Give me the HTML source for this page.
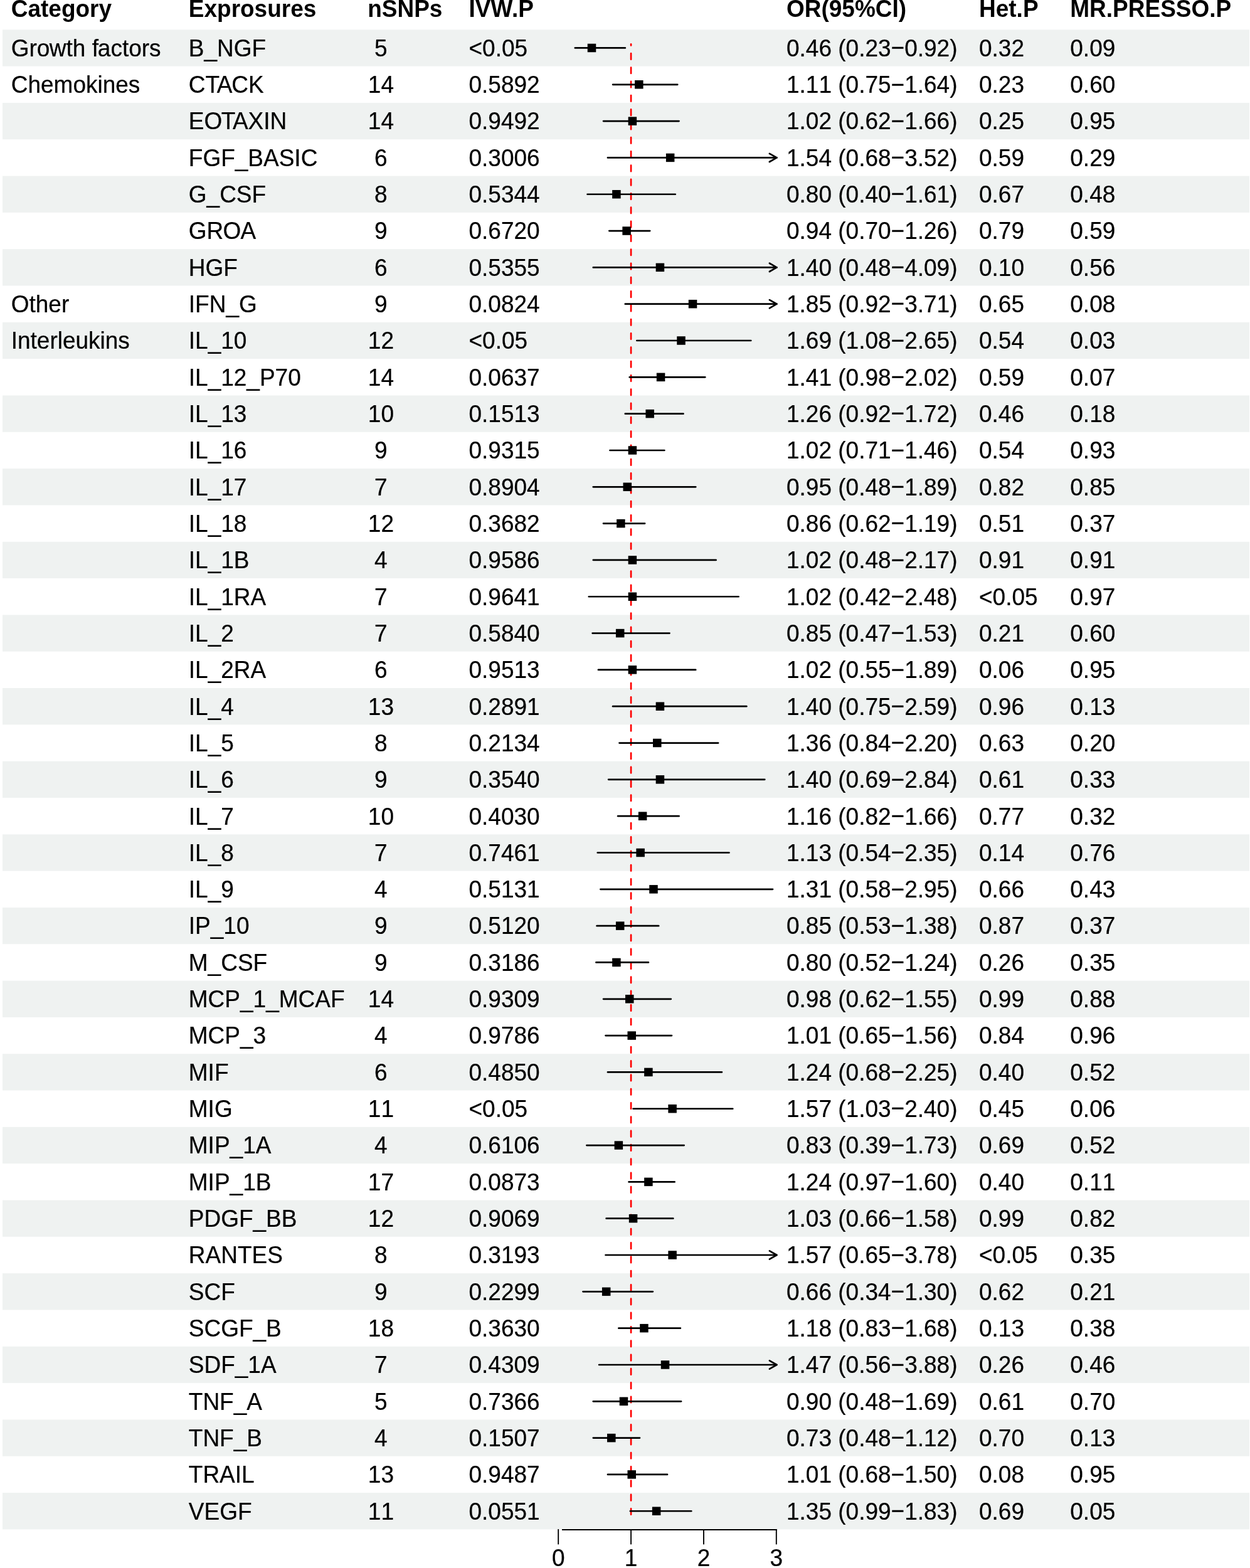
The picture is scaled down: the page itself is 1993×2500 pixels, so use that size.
<!DOCTYPE html>
<html><head><meta charset="utf-8"><title>Forest plot</title><style>html,body{margin:0;padding:0;background:#fff;}svg{display:block;}text{font-family:"Liberation Sans",Arial,sans-serif;font-size:38.5px;fill:#000;font-kerning:none;font-feature-settings:"kern" 0;}.r{stroke:#000;stroke-width:0.25px;}.h{font-weight:bold;}</style></head><body>
<svg width="1993" height="2500" viewBox="0 0 1993 2500">
<rect x="0" y="0" width="1993" height="2500" fill="#fff"/>
<rect x="4" y="47.30" width="1988" height="58.3" fill="#eff2f1"/>
<rect x="4" y="163.94" width="1988" height="58.3" fill="#eff2f1"/>
<rect x="4" y="280.58" width="1988" height="58.3" fill="#eff2f1"/>
<rect x="4" y="397.22" width="1988" height="58.3" fill="#eff2f1"/>
<rect x="4" y="513.86" width="1988" height="58.3" fill="#eff2f1"/>
<rect x="4" y="630.50" width="1988" height="58.3" fill="#eff2f1"/>
<rect x="4" y="747.14" width="1988" height="58.3" fill="#eff2f1"/>
<rect x="4" y="863.78" width="1988" height="58.3" fill="#eff2f1"/>
<rect x="4" y="980.42" width="1988" height="58.3" fill="#eff2f1"/>
<rect x="4" y="1097.06" width="1988" height="58.3" fill="#eff2f1"/>
<rect x="4" y="1213.70" width="1988" height="58.3" fill="#eff2f1"/>
<rect x="4" y="1330.34" width="1988" height="58.3" fill="#eff2f1"/>
<rect x="4" y="1446.98" width="1988" height="58.3" fill="#eff2f1"/>
<rect x="4" y="1563.62" width="1988" height="58.3" fill="#eff2f1"/>
<rect x="4" y="1680.26" width="1988" height="58.3" fill="#eff2f1"/>
<rect x="4" y="1796.90" width="1988" height="58.3" fill="#eff2f1"/>
<rect x="4" y="1913.54" width="1988" height="58.3" fill="#eff2f1"/>
<rect x="4" y="2030.18" width="1988" height="58.3" fill="#eff2f1"/>
<rect x="4" y="2146.82" width="1988" height="58.3" fill="#eff2f1"/>
<rect x="4" y="2263.46" width="1988" height="58.3" fill="#eff2f1"/>
<rect x="4" y="2380.10" width="1988" height="58.3" fill="#eff2f1"/>
<g transform="scale(0.961 1)"><text x="18.42" y="26.70" class="h">Category</text><text x="313.01" y="26.70" class="h">Exprosures</text><text x="609.99" y="26.70" class="h">nSNPs</text><text x="777.84" y="26.70" class="h">IVW<tspan dx="-1.35">.</tspan>P</text><text x="1304.89" y="26.70" class="h">OR(95%CI)</text><text x="1624.35" y="26.70" class="h">Het.P</text><text x="1775.55" y="26.70" class="h">MR.PRESSO.P</text><text x="18.42" y="89.80" class="r">Gro<tspan dx="-0.58">w</tspan>th f<tspan dx="-1.16">a</tspan>ctors</text><text x="313.01" y="89.80" class="r">B_NGF</text><text x="632.05" y="89.80" class="r" text-anchor="middle">5</text><text x="777.84" y="89.80" class="r">&lt;0.05</text><text x="1304.89" y="89.80" class="r">0.46 (0.23<tspan dy="-0.6">−</tspan><tspan dy="0.6">0.92)</tspan></text><text x="1624.35" y="89.80" class="r">0.32</text><text x="1775.55" y="89.80" class="r">0.09</text><text x="18.42" y="148.12" class="r">Chemokines</text><text x="313.01" y="148.12" class="r">CT<tspan dx="-4.62">A</tspan><tspan dx="-1.16">C</tspan>K</text><text x="632.05" y="148.12" class="r" text-anchor="middle">14</text><text x="777.84" y="148.12" class="r">0.5892</text><text x="1304.89" y="148.12" class="r">1.11 (0.75<tspan dy="-0.6">−</tspan><tspan dy="0.6">1.64)</tspan></text><text x="1624.35" y="148.12" class="r">0.23</text><text x="1775.55" y="148.12" class="r">0.60</text><text x="313.01" y="206.44" class="r">EO<tspan dx="-1.54">T</tspan><tspan dx="-4.62">A</tspan>XIN</text><text x="632.05" y="206.44" class="r" text-anchor="middle">14</text><text x="777.84" y="206.44" class="r">0.9492</text><text x="1304.89" y="206.44" class="r">1.02 (0.62<tspan dy="-0.6">−</tspan><tspan dy="0.6">1.66)</tspan></text><text x="1624.35" y="206.44" class="r">0.25</text><text x="1775.55" y="206.44" class="r">0.95</text><text x="313.01" y="264.76" class="r">FGF_BASIC</text><text x="632.05" y="264.76" class="r" text-anchor="middle">6</text><text x="777.84" y="264.76" class="r">0.3006</text><text x="1304.89" y="264.76" class="r">1.54 (0.68<tspan dy="-0.6">−</tspan><tspan dy="0.6">3.52)</tspan></text><text x="1624.35" y="264.76" class="r">0.59</text><text x="1775.55" y="264.76" class="r">0.29</text><text x="313.01" y="323.08" class="r">G_CSF</text><text x="632.05" y="323.08" class="r" text-anchor="middle">8</text><text x="777.84" y="323.08" class="r">0.5344</text><text x="1304.89" y="323.08" class="r">0.80 (0.40<tspan dy="-0.6">−</tspan><tspan dy="0.6">1.61)</tspan></text><text x="1624.35" y="323.08" class="r">0.67</text><text x="1775.55" y="323.08" class="r">0.48</text><text x="313.01" y="381.40" class="r">GR<tspan dx="-0.77">O</tspan><tspan dx="-0.77">A</tspan></text><text x="632.05" y="381.40" class="r" text-anchor="middle">9</text><text x="777.84" y="381.40" class="r">0.6720</text><text x="1304.89" y="381.40" class="r">0.94 (0.70<tspan dy="-0.6">−</tspan><tspan dy="0.6">1.26)</tspan></text><text x="1624.35" y="381.40" class="r">0.79</text><text x="1775.55" y="381.40" class="r">0.59</text><text x="313.01" y="439.72" class="r">HGF</text><text x="632.05" y="439.72" class="r" text-anchor="middle">6</text><text x="777.84" y="439.72" class="r">0.5355</text><text x="1304.89" y="439.72" class="r">1.40 (0.48<tspan dy="-0.6">−</tspan><tspan dy="0.6">4.09)</tspan></text><text x="1624.35" y="439.72" class="r">0.10</text><text x="1775.55" y="439.72" class="r">0.56</text><text x="18.42" y="498.04" class="r">Other</text><text x="313.01" y="498.04" class="r">IFN_G</text><text x="632.05" y="498.04" class="r" text-anchor="middle">9</text><text x="777.84" y="498.04" class="r">0.0824</text><text x="1304.89" y="498.04" class="r">1.85 (0.92<tspan dy="-0.6">−</tspan><tspan dy="0.6">3.71)</tspan></text><text x="1624.35" y="498.04" class="r">0.65</text><text x="1775.55" y="498.04" class="r">0.08</text><text x="18.42" y="556.36" class="r">Interleukins</text><text x="313.01" y="556.36" class="r">IL_10</text><text x="632.05" y="556.36" class="r" text-anchor="middle">12</text><text x="777.84" y="556.36" class="r">&lt;0.05</text><text x="1304.89" y="556.36" class="r">1.69 (1.08<tspan dy="-0.6">−</tspan><tspan dy="0.6">2.65)</tspan></text><text x="1624.35" y="556.36" class="r">0.54</text><text x="1775.55" y="556.36" class="r">0.03</text><text x="313.01" y="614.68" class="r">IL_12_P70</text><text x="632.05" y="614.68" class="r" text-anchor="middle">14</text><text x="777.84" y="614.68" class="r">0.0637</text><text x="1304.89" y="614.68" class="r">1.41 (0.98<tspan dy="-0.6">−</tspan><tspan dy="0.6">2.02)</tspan></text><text x="1624.35" y="614.68" class="r">0.59</text><text x="1775.55" y="614.68" class="r">0.07</text><text x="313.01" y="673.00" class="r">IL_13</text><text x="632.05" y="673.00" class="r" text-anchor="middle">10</text><text x="777.84" y="673.00" class="r">0.1513</text><text x="1304.89" y="673.00" class="r">1.26 (0.92<tspan dy="-0.6">−</tspan><tspan dy="0.6">1.72)</tspan></text><text x="1624.35" y="673.00" class="r">0.46</text><text x="1775.55" y="673.00" class="r">0.18</text><text x="313.01" y="731.32" class="r">IL_16</text><text x="632.05" y="731.32" class="r" text-anchor="middle">9</text><text x="777.84" y="731.32" class="r">0.9315</text><text x="1304.89" y="731.32" class="r">1.02 (0.71<tspan dy="-0.6">−</tspan><tspan dy="0.6">1.46)</tspan></text><text x="1624.35" y="731.32" class="r">0.54</text><text x="1775.55" y="731.32" class="r">0.93</text><text x="313.01" y="789.64" class="r">IL_17</text><text x="632.05" y="789.64" class="r" text-anchor="middle">7</text><text x="777.84" y="789.64" class="r">0.8904</text><text x="1304.89" y="789.64" class="r">0.95 (0.48<tspan dy="-0.6">−</tspan><tspan dy="0.6">1.89)</tspan></text><text x="1624.35" y="789.64" class="r">0.82</text><text x="1775.55" y="789.64" class="r">0.85</text><text x="313.01" y="847.96" class="r">IL_18</text><text x="632.05" y="847.96" class="r" text-anchor="middle">12</text><text x="777.84" y="847.96" class="r">0.3682</text><text x="1304.89" y="847.96" class="r">0.86 (0.62<tspan dy="-0.6">−</tspan><tspan dy="0.6">1.19)</tspan></text><text x="1624.35" y="847.96" class="r">0.51</text><text x="1775.55" y="847.96" class="r">0.37</text><text x="313.01" y="906.28" class="r">IL_1B</text><text x="632.05" y="906.28" class="r" text-anchor="middle">4</text><text x="777.84" y="906.28" class="r">0.9586</text><text x="1304.89" y="906.28" class="r">1.02 (0.48<tspan dy="-0.6">−</tspan><tspan dy="0.6">2.17)</tspan></text><text x="1624.35" y="906.28" class="r">0.91</text><text x="1775.55" y="906.28" class="r">0.91</text><text x="313.01" y="964.60" class="r">IL_1RA</text><text x="632.05" y="964.60" class="r" text-anchor="middle">7</text><text x="777.84" y="964.60" class="r">0.9641</text><text x="1304.89" y="964.60" class="r">1.02 (0.42<tspan dy="-0.6">−</tspan><tspan dy="0.6">2.48)</tspan></text><text x="1624.35" y="964.60" class="r">&lt;0.05</text><text x="1775.55" y="964.60" class="r">0.97</text><text x="313.01" y="1022.92" class="r">IL_2</text><text x="632.05" y="1022.92" class="r" text-anchor="middle">7</text><text x="777.84" y="1022.92" class="r">0.5840</text><text x="1304.89" y="1022.92" class="r">0.85 (0.47<tspan dy="-0.6">−</tspan><tspan dy="0.6">1.53)</tspan></text><text x="1624.35" y="1022.92" class="r">0.21</text><text x="1775.55" y="1022.92" class="r">0.60</text><text x="313.01" y="1081.24" class="r">IL_2RA</text><text x="632.05" y="1081.24" class="r" text-anchor="middle">6</text><text x="777.84" y="1081.24" class="r">0.9513</text><text x="1304.89" y="1081.24" class="r">1.02 (0.55<tspan dy="-0.6">−</tspan><tspan dy="0.6">1.89)</tspan></text><text x="1624.35" y="1081.24" class="r">0.06</text><text x="1775.55" y="1081.24" class="r">0.95</text><text x="313.01" y="1139.56" class="r">IL_4</text><text x="632.05" y="1139.56" class="r" text-anchor="middle">13</text><text x="777.84" y="1139.56" class="r">0.2891</text><text x="1304.89" y="1139.56" class="r">1.40 (0.75<tspan dy="-0.6">−</tspan><tspan dy="0.6">2.59)</tspan></text><text x="1624.35" y="1139.56" class="r">0.96</text><text x="1775.55" y="1139.56" class="r">0.13</text><text x="313.01" y="1197.88" class="r">IL_5</text><text x="632.05" y="1197.88" class="r" text-anchor="middle">8</text><text x="777.84" y="1197.88" class="r">0.2134</text><text x="1304.89" y="1197.88" class="r">1.36 (0.84<tspan dy="-0.6">−</tspan><tspan dy="0.6">2.20)</tspan></text><text x="1624.35" y="1197.88" class="r">0.63</text><text x="1775.55" y="1197.88" class="r">0.20</text><text x="313.01" y="1256.20" class="r">IL_6</text><text x="632.05" y="1256.20" class="r" text-anchor="middle">9</text><text x="777.84" y="1256.20" class="r">0.3540</text><text x="1304.89" y="1256.20" class="r">1.40 (0.69<tspan dy="-0.6">−</tspan><tspan dy="0.6">2.84)</tspan></text><text x="1624.35" y="1256.20" class="r">0.61</text><text x="1775.55" y="1256.20" class="r">0.33</text><text x="313.01" y="1314.52" class="r">IL_7</text><text x="632.05" y="1314.52" class="r" text-anchor="middle">10</text><text x="777.84" y="1314.52" class="r">0.4030</text><text x="1304.89" y="1314.52" class="r">1.16 (0.82<tspan dy="-0.6">−</tspan><tspan dy="0.6">1.66)</tspan></text><text x="1624.35" y="1314.52" class="r">0.77</text><text x="1775.55" y="1314.52" class="r">0.32</text><text x="313.01" y="1372.84" class="r">IL_8</text><text x="632.05" y="1372.84" class="r" text-anchor="middle">7</text><text x="777.84" y="1372.84" class="r">0.7461</text><text x="1304.89" y="1372.84" class="r">1.13 (0.54<tspan dy="-0.6">−</tspan><tspan dy="0.6">2.35)</tspan></text><text x="1624.35" y="1372.84" class="r">0.14</text><text x="1775.55" y="1372.84" class="r">0.76</text><text x="313.01" y="1431.16" class="r">IL_9</text><text x="632.05" y="1431.16" class="r" text-anchor="middle">4</text><text x="777.84" y="1431.16" class="r">0.5131</text><text x="1304.89" y="1431.16" class="r">1.31 (0.58<tspan dy="-0.6">−</tspan><tspan dy="0.6">2.95)</tspan></text><text x="1624.35" y="1431.16" class="r">0.66</text><text x="1775.55" y="1431.16" class="r">0.43</text><text x="313.01" y="1489.48" class="r">IP_10</text><text x="632.05" y="1489.48" class="r" text-anchor="middle">9</text><text x="777.84" y="1489.48" class="r">0.5120</text><text x="1304.89" y="1489.48" class="r">0.85 (0.53<tspan dy="-0.6">−</tspan><tspan dy="0.6">1.38)</tspan></text><text x="1624.35" y="1489.48" class="r">0.87</text><text x="1775.55" y="1489.48" class="r">0.37</text><text x="313.01" y="1547.80" class="r">M_CSF</text><text x="632.05" y="1547.80" class="r" text-anchor="middle">9</text><text x="777.84" y="1547.80" class="r">0.3186</text><text x="1304.89" y="1547.80" class="r">0.80 (0.52<tspan dy="-0.6">−</tspan><tspan dy="0.6">1.24)</tspan></text><text x="1624.35" y="1547.80" class="r">0.26</text><text x="1775.55" y="1547.80" class="r">0.35</text><text x="313.01" y="1606.12" class="r">MCP_1_MCAF</text><text x="632.05" y="1606.12" class="r" text-anchor="middle">14</text><text x="777.84" y="1606.12" class="r">0.9309</text><text x="1304.89" y="1606.12" class="r">0.98 (0.62<tspan dy="-0.6">−</tspan><tspan dy="0.6">1.55)</tspan></text><text x="1624.35" y="1606.12" class="r">0.99</text><text x="1775.55" y="1606.12" class="r">0.88</text><text x="313.01" y="1664.44" class="r">MCP_3</text><text x="632.05" y="1664.44" class="r" text-anchor="middle">4</text><text x="777.84" y="1664.44" class="r">0.9786</text><text x="1304.89" y="1664.44" class="r">1.01 (0.65<tspan dy="-0.6">−</tspan><tspan dy="0.6">1.56)</tspan></text><text x="1624.35" y="1664.44" class="r">0.84</text><text x="1775.55" y="1664.44" class="r">0.96</text><text x="313.01" y="1722.76" class="r">MIF</text><text x="632.05" y="1722.76" class="r" text-anchor="middle">6</text><text x="777.84" y="1722.76" class="r">0.4850</text><text x="1304.89" y="1722.76" class="r">1.24 (0.68<tspan dy="-0.6">−</tspan><tspan dy="0.6">2.25)</tspan></text><text x="1624.35" y="1722.76" class="r">0.40</text><text x="1775.55" y="1722.76" class="r">0.52</text><text x="313.01" y="1781.08" class="r">MIG</text><text x="632.05" y="1781.08" class="r" text-anchor="middle">11</text><text x="777.84" y="1781.08" class="r">&lt;0.05</text><text x="1304.89" y="1781.08" class="r">1.57 (1.03<tspan dy="-0.6">−</tspan><tspan dy="0.6">2.40)</tspan></text><text x="1624.35" y="1781.08" class="r">0.45</text><text x="1775.55" y="1781.08" class="r">0.06</text><text x="313.01" y="1839.40" class="r">MIP_1A</text><text x="632.05" y="1839.40" class="r" text-anchor="middle">4</text><text x="777.84" y="1839.40" class="r">0.6106</text><text x="1304.89" y="1839.40" class="r">0.83 (0.39<tspan dy="-0.6">−</tspan><tspan dy="0.6">1.73)</tspan></text><text x="1624.35" y="1839.40" class="r">0.69</text><text x="1775.55" y="1839.40" class="r">0.52</text><text x="313.01" y="1897.72" class="r">MIP_1B</text><text x="632.05" y="1897.72" class="r" text-anchor="middle">17</text><text x="777.84" y="1897.72" class="r">0.0873</text><text x="1304.89" y="1897.72" class="r">1.24 (0.97<tspan dy="-0.6">−</tspan><tspan dy="0.6">1.60)</tspan></text><text x="1624.35" y="1897.72" class="r">0.40</text><text x="1775.55" y="1897.72" class="r">0.11</text><text x="313.01" y="1956.04" class="r">PDGF_BB</text><text x="632.05" y="1956.04" class="r" text-anchor="middle">12</text><text x="777.84" y="1956.04" class="r">0.9069</text><text x="1304.89" y="1956.04" class="r">1.03 (0.66<tspan dy="-0.6">−</tspan><tspan dy="0.6">1.58)</tspan></text><text x="1624.35" y="1956.04" class="r">0.99</text><text x="1775.55" y="1956.04" class="r">0.82</text><text x="313.01" y="2014.36" class="r">RANTES</text><text x="632.05" y="2014.36" class="r" text-anchor="middle">8</text><text x="777.84" y="2014.36" class="r">0.3193</text><text x="1304.89" y="2014.36" class="r">1.57 (0.65<tspan dy="-0.6">−</tspan><tspan dy="0.6">3.78)</tspan></text><text x="1624.35" y="2014.36" class="r">&lt;0.05</text><text x="1775.55" y="2014.36" class="r">0.35</text><text x="313.01" y="2072.68" class="r">SCF</text><text x="632.05" y="2072.68" class="r" text-anchor="middle">9</text><text x="777.84" y="2072.68" class="r">0.2299</text><text x="1304.89" y="2072.68" class="r">0.66 (0.34<tspan dy="-0.6">−</tspan><tspan dy="0.6">1.30)</tspan></text><text x="1624.35" y="2072.68" class="r">0.62</text><text x="1775.55" y="2072.68" class="r">0.21</text><text x="313.01" y="2131.00" class="r">SCGF_B</text><text x="632.05" y="2131.00" class="r" text-anchor="middle">18</text><text x="777.84" y="2131.00" class="r">0.3630</text><text x="1304.89" y="2131.00" class="r">1.18 (0.83<tspan dy="-0.6">−</tspan><tspan dy="0.6">1.68)</tspan></text><text x="1624.35" y="2131.00" class="r">0.13</text><text x="1775.55" y="2131.00" class="r">0.38</text><text x="313.01" y="2189.32" class="r">SDF_1A</text><text x="632.05" y="2189.32" class="r" text-anchor="middle">7</text><text x="777.84" y="2189.32" class="r">0.4309</text><text x="1304.89" y="2189.32" class="r">1.47 (0.56<tspan dy="-0.6">−</tspan><tspan dy="0.6">3.88)</tspan></text><text x="1624.35" y="2189.32" class="r">0.26</text><text x="1775.55" y="2189.32" class="r">0.46</text><text x="313.01" y="2247.64" class="r">TNF_A</text><text x="632.05" y="2247.64" class="r" text-anchor="middle">5</text><text x="777.84" y="2247.64" class="r">0.7366</text><text x="1304.89" y="2247.64" class="r">0.90 (0.48<tspan dy="-0.6">−</tspan><tspan dy="0.6">1.69)</tspan></text><text x="1624.35" y="2247.64" class="r">0.61</text><text x="1775.55" y="2247.64" class="r">0.70</text><text x="313.01" y="2305.96" class="r">TNF_B</text><text x="632.05" y="2305.96" class="r" text-anchor="middle">4</text><text x="777.84" y="2305.96" class="r">0.1507</text><text x="1304.89" y="2305.96" class="r">0.73 (0.48<tspan dy="-0.6">−</tspan><tspan dy="0.6">1.12)</tspan></text><text x="1624.35" y="2305.96" class="r">0.70</text><text x="1775.55" y="2305.96" class="r">0.13</text><text x="313.01" y="2364.28" class="r">TRAIL</text><text x="632.05" y="2364.28" class="r" text-anchor="middle">13</text><text x="777.84" y="2364.28" class="r">0.9487</text><text x="1304.89" y="2364.28" class="r">1.01 (0.68<tspan dy="-0.6">−</tspan><tspan dy="0.6">1.50)</tspan></text><text x="1624.35" y="2364.28" class="r">0.08</text><text x="1775.55" y="2364.28" class="r">0.95</text><text x="313.01" y="2422.60" class="r">VEGF</text><text x="632.05" y="2422.60" class="r" text-anchor="middle">11</text><text x="777.84" y="2422.60" class="r">0.0551</text><text x="1304.89" y="2422.60" class="r">1.35 (0.99<tspan dy="-0.6">−</tspan><tspan dy="0.6">1.83)</tspan></text><text x="1624.35" y="2422.60" class="r">0.69</text><text x="1775.55" y="2422.60" class="r">0.05</text></g>
<line x1="1006.07" y1="70.4" x2="1006.07" y2="2414.7" stroke="#ff0000" stroke-width="2.7" stroke-dasharray="9.5 12.808" stroke-dashoffset="7.508" stroke-linecap="round"/>
<line x1="916.85" y1="76.46" x2="996.80" y2="76.46" stroke="#000" stroke-width="2.7" stroke-linecap="round"/>
<rect x="936.75" y="69.71" width="13.5" height="13.5" fill="#000"/>
<line x1="977.10" y1="134.78" x2="1080.23" y2="134.78" stroke="#000" stroke-width="2.7" stroke-linecap="round"/>
<rect x="1012.07" y="128.03" width="13.5" height="13.5" fill="#000"/>
<line x1="962.04" y1="193.10" x2="1082.54" y2="193.10" stroke="#000" stroke-width="2.7" stroke-linecap="round"/>
<rect x="1001.64" y="186.35" width="13.5" height="13.5" fill="#000"/>
<line x1="968.99" y1="251.42" x2="1238.41" y2="251.42" stroke="#000" stroke-width="2.7" stroke-linecap="round"/>
<polyline points="1226.91,244.82 1238.41,251.42 1226.91,258.02" fill="none" stroke="#000" stroke-width="2.7" stroke-linecap="round" stroke-linejoin="round"/>
<rect x="1061.89" y="244.67" width="13.5" height="13.5" fill="#000"/>
<line x1="936.55" y1="309.74" x2="1076.75" y2="309.74" stroke="#000" stroke-width="2.7" stroke-linecap="round"/>
<rect x="976.15" y="302.99" width="13.5" height="13.5" fill="#000"/>
<line x1="971.31" y1="368.06" x2="1036.20" y2="368.06" stroke="#000" stroke-width="2.7" stroke-linecap="round"/>
<rect x="992.37" y="361.31" width="13.5" height="13.5" fill="#000"/>
<line x1="945.82" y1="426.38" x2="1238.41" y2="426.38" stroke="#000" stroke-width="2.7" stroke-linecap="round"/>
<polyline points="1226.91,419.78 1238.41,426.38 1226.91,432.98" fill="none" stroke="#000" stroke-width="2.7" stroke-linecap="round" stroke-linejoin="round"/>
<rect x="1045.67" y="419.63" width="13.5" height="13.5" fill="#000"/>
<line x1="996.80" y1="484.70" x2="1238.41" y2="484.70" stroke="#000" stroke-width="2.7" stroke-linecap="round"/>
<polyline points="1226.91,478.10 1238.41,484.70 1226.91,491.30" fill="none" stroke="#000" stroke-width="2.7" stroke-linecap="round" stroke-linejoin="round"/>
<rect x="1097.81" y="477.95" width="13.5" height="13.5" fill="#000"/>
<line x1="1015.34" y1="543.02" x2="1197.26" y2="543.02" stroke="#000" stroke-width="2.7" stroke-linecap="round"/>
<rect x="1079.27" y="536.27" width="13.5" height="13.5" fill="#000"/>
<line x1="1003.75" y1="601.34" x2="1124.26" y2="601.34" stroke="#000" stroke-width="2.7" stroke-linecap="round"/>
<rect x="1046.83" y="594.59" width="13.5" height="13.5" fill="#000"/>
<line x1="996.80" y1="659.66" x2="1089.50" y2="659.66" stroke="#000" stroke-width="2.7" stroke-linecap="round"/>
<rect x="1029.45" y="652.91" width="13.5" height="13.5" fill="#000"/>
<line x1="972.47" y1="717.98" x2="1059.37" y2="717.98" stroke="#000" stroke-width="2.7" stroke-linecap="round"/>
<rect x="1001.64" y="711.23" width="13.5" height="13.5" fill="#000"/>
<line x1="945.82" y1="776.30" x2="1109.19" y2="776.30" stroke="#000" stroke-width="2.7" stroke-linecap="round"/>
<rect x="993.53" y="769.55" width="13.5" height="13.5" fill="#000"/>
<line x1="962.04" y1="834.62" x2="1028.09" y2="834.62" stroke="#000" stroke-width="2.7" stroke-linecap="round"/>
<rect x="983.10" y="827.87" width="13.5" height="13.5" fill="#000"/>
<line x1="945.82" y1="892.94" x2="1141.64" y2="892.94" stroke="#000" stroke-width="2.7" stroke-linecap="round"/>
<rect x="1001.64" y="886.19" width="13.5" height="13.5" fill="#000"/>
<line x1="938.87" y1="951.26" x2="1177.56" y2="951.26" stroke="#000" stroke-width="2.7" stroke-linecap="round"/>
<rect x="1001.64" y="944.51" width="13.5" height="13.5" fill="#000"/>
<line x1="944.66" y1="1009.58" x2="1067.48" y2="1009.58" stroke="#000" stroke-width="2.7" stroke-linecap="round"/>
<rect x="981.94" y="1002.83" width="13.5" height="13.5" fill="#000"/>
<line x1="953.93" y1="1067.90" x2="1109.19" y2="1067.90" stroke="#000" stroke-width="2.7" stroke-linecap="round"/>
<rect x="1001.64" y="1061.15" width="13.5" height="13.5" fill="#000"/>
<line x1="977.10" y1="1126.22" x2="1190.30" y2="1126.22" stroke="#000" stroke-width="2.7" stroke-linecap="round"/>
<rect x="1045.67" y="1119.47" width="13.5" height="13.5" fill="#000"/>
<line x1="987.53" y1="1184.54" x2="1145.11" y2="1184.54" stroke="#000" stroke-width="2.7" stroke-linecap="round"/>
<rect x="1041.03" y="1177.79" width="13.5" height="13.5" fill="#000"/>
<line x1="970.15" y1="1242.86" x2="1219.27" y2="1242.86" stroke="#000" stroke-width="2.7" stroke-linecap="round"/>
<rect x="1045.67" y="1236.11" width="13.5" height="13.5" fill="#000"/>
<line x1="985.21" y1="1301.18" x2="1082.54" y2="1301.18" stroke="#000" stroke-width="2.7" stroke-linecap="round"/>
<rect x="1017.86" y="1294.43" width="13.5" height="13.5" fill="#000"/>
<line x1="952.77" y1="1359.50" x2="1162.49" y2="1359.50" stroke="#000" stroke-width="2.7" stroke-linecap="round"/>
<rect x="1014.38" y="1352.75" width="13.5" height="13.5" fill="#000"/>
<line x1="957.40" y1="1417.82" x2="1232.02" y2="1417.82" stroke="#000" stroke-width="2.7" stroke-linecap="round"/>
<rect x="1035.24" y="1411.07" width="13.5" height="13.5" fill="#000"/>
<line x1="951.61" y1="1476.14" x2="1050.10" y2="1476.14" stroke="#000" stroke-width="2.7" stroke-linecap="round"/>
<rect x="981.94" y="1469.39" width="13.5" height="13.5" fill="#000"/>
<line x1="950.45" y1="1534.46" x2="1033.88" y2="1534.46" stroke="#000" stroke-width="2.7" stroke-linecap="round"/>
<rect x="976.15" y="1527.71" width="13.5" height="13.5" fill="#000"/>
<line x1="962.04" y1="1592.78" x2="1069.80" y2="1592.78" stroke="#000" stroke-width="2.7" stroke-linecap="round"/>
<rect x="997.00" y="1586.03" width="13.5" height="13.5" fill="#000"/>
<line x1="965.52" y1="1651.10" x2="1070.96" y2="1651.10" stroke="#000" stroke-width="2.7" stroke-linecap="round"/>
<rect x="1000.48" y="1644.35" width="13.5" height="13.5" fill="#000"/>
<line x1="968.99" y1="1709.42" x2="1150.91" y2="1709.42" stroke="#000" stroke-width="2.7" stroke-linecap="round"/>
<rect x="1027.13" y="1702.67" width="13.5" height="13.5" fill="#000"/>
<line x1="1009.55" y1="1767.74" x2="1168.29" y2="1767.74" stroke="#000" stroke-width="2.7" stroke-linecap="round"/>
<rect x="1065.37" y="1760.99" width="13.5" height="13.5" fill="#000"/>
<line x1="935.39" y1="1826.06" x2="1090.66" y2="1826.06" stroke="#000" stroke-width="2.7" stroke-linecap="round"/>
<rect x="979.62" y="1819.31" width="13.5" height="13.5" fill="#000"/>
<line x1="1002.59" y1="1884.38" x2="1075.59" y2="1884.38" stroke="#000" stroke-width="2.7" stroke-linecap="round"/>
<rect x="1027.13" y="1877.63" width="13.5" height="13.5" fill="#000"/>
<line x1="966.67" y1="1942.70" x2="1073.27" y2="1942.70" stroke="#000" stroke-width="2.7" stroke-linecap="round"/>
<rect x="1002.80" y="1935.95" width="13.5" height="13.5" fill="#000"/>
<line x1="965.52" y1="2001.02" x2="1238.41" y2="2001.02" stroke="#000" stroke-width="2.7" stroke-linecap="round"/>
<polyline points="1226.91,1994.42 1238.41,2001.02 1226.91,2007.62" fill="none" stroke="#000" stroke-width="2.7" stroke-linecap="round" stroke-linejoin="round"/>
<rect x="1065.37" y="1994.27" width="13.5" height="13.5" fill="#000"/>
<line x1="929.60" y1="2059.34" x2="1040.83" y2="2059.34" stroke="#000" stroke-width="2.7" stroke-linecap="round"/>
<rect x="959.92" y="2052.59" width="13.5" height="13.5" fill="#000"/>
<line x1="986.37" y1="2117.66" x2="1084.86" y2="2117.66" stroke="#000" stroke-width="2.7" stroke-linecap="round"/>
<rect x="1020.18" y="2110.91" width="13.5" height="13.5" fill="#000"/>
<line x1="955.09" y1="2175.98" x2="1238.41" y2="2175.98" stroke="#000" stroke-width="2.7" stroke-linecap="round"/>
<polyline points="1226.91,2169.38 1238.41,2175.98 1226.91,2182.58" fill="none" stroke="#000" stroke-width="2.7" stroke-linecap="round" stroke-linejoin="round"/>
<rect x="1053.78" y="2169.23" width="13.5" height="13.5" fill="#000"/>
<line x1="945.82" y1="2234.30" x2="1086.02" y2="2234.30" stroke="#000" stroke-width="2.7" stroke-linecap="round"/>
<rect x="987.73" y="2227.55" width="13.5" height="13.5" fill="#000"/>
<line x1="945.82" y1="2292.62" x2="1019.97" y2="2292.62" stroke="#000" stroke-width="2.7" stroke-linecap="round"/>
<rect x="968.04" y="2285.87" width="13.5" height="13.5" fill="#000"/>
<line x1="968.99" y1="2350.94" x2="1064.01" y2="2350.94" stroke="#000" stroke-width="2.7" stroke-linecap="round"/>
<rect x="1000.48" y="2344.19" width="13.5" height="13.5" fill="#000"/>
<line x1="1004.91" y1="2409.26" x2="1102.24" y2="2409.26" stroke="#000" stroke-width="2.7" stroke-linecap="round"/>
<rect x="1039.87" y="2402.51" width="13.5" height="13.5" fill="#000"/>
<line x1="895.99" y1="2439" x2="1238.76" y2="2439" stroke="#000" stroke-width="1.9"/>
<line x1="890.20" y1="2438.05" x2="890.20" y2="2462.4" stroke="#000" stroke-width="1.9"/>
<line x1="1006.07" y1="2438.05" x2="1006.07" y2="2462.4" stroke="#000" stroke-width="1.9"/>
<line x1="1121.94" y1="2438.05" x2="1121.94" y2="2462.4" stroke="#000" stroke-width="1.9"/>
<line x1="1237.81" y1="2438.05" x2="1237.81" y2="2462.4" stroke="#000" stroke-width="1.9"/>
<g transform="scale(0.961 1)"><text x="926.33" y="2497.30" class="r" text-anchor="middle">0</text><text x="1046.90" y="2497.30" class="r" text-anchor="middle">1</text><text x="1167.47" y="2497.30" class="r" text-anchor="middle">2</text><text x="1288.04" y="2497.30" class="r" text-anchor="middle">3</text></g>
</svg></body></html>
